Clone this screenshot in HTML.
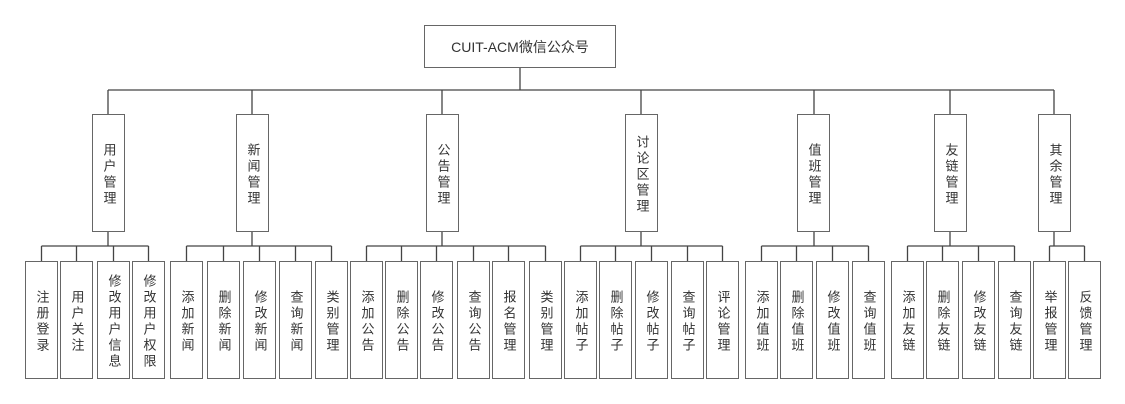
<!DOCTYPE html>
<html><head><meta charset="utf-8"><style>
body{margin:0;width:1125px;height:404px;background:#fff;position:relative;overflow:hidden;font-family:"Liberation Sans","Noto Sans CJK SC",sans-serif;color:#333}
svg{position:absolute;left:0;top:0}
.b{position:absolute;border:1.5px solid #666;box-sizing:border-box;background:#fff;display:flex;align-items:center;justify-content:center}
.b span{writing-mode:vertical-rl;font-size:13px;letter-spacing:3px;line-height:14px;margin-top:3px}
.m{top:114px;width:33px;height:118px}
.l{top:261px;width:33px;height:118px}
.r{left:424px;top:25px;width:192px;height:43px;font-size:14px;color:#333}
</style></head><body>
<svg width="1125" height="404" stroke="#444" stroke-width="1.3" fill="none">
<path d="M520 68V90M108 90H1054M108 90V114M252 90V114M442 90V114M641 90V114M814 90V114M950 90V114M1054 90V114"/>
<path d="M108 232V246M41.5 246H148.5M41.5 246V261M76.5 246V261M113.5 246V261M148.5 246V261"/>
<path d="M252 232V246M186.5 246H331.5M186.5 246V261M223.5 246V261M259.5 246V261M295.5 246V261M331.5 246V261"/>
<path d="M442 232V246M366.5 246H545.5M366.5 246V261M401.5 246V261M436.5 246V261M473.5 246V261M508.5 246V261M545.5 246V261"/>
<path d="M641 232V246M580.5 246H722.5M580.5 246V261M615.5 246V261M651.5 246V261M687.5 246V261M722.5 246V261"/>
<path d="M814 232V246M761.5 246H868.5M761.5 246V261M796.5 246V261M832.5 246V261M868.5 246V261"/>
<path d="M950 232V246M907.5 246H1014.5M907.5 246V261M942.5 246V261M978.5 246V261M1014.5 246V261"/>
<path d="M1054 232V246M1049.5 246H1084.5M1049.5 246V261M1084.5 246V261"/>
</svg>
<div class="b r">CUIT-ACM微信公众号</div>
<div class="b m" style="left:92px"><span>用户管理</span></div>
<div class="b m" style="left:236px"><span>新闻管理</span></div>
<div class="b m" style="left:426px"><span>公告管理</span></div>
<div class="b m" style="left:625px"><span>讨论区管理</span></div>
<div class="b m" style="left:797px"><span>值班管理</span></div>
<div class="b m" style="left:934px"><span>友链管理</span></div>
<div class="b m" style="left:1038px"><span>其余管理</span></div>

<div class="b l" style="left:25px"><span>注册登录</span></div>
<div class="b l" style="left:60px"><span>用户关注</span></div>
<div class="b l" style="left:97px"><span>修改用户信息</span></div>
<div class="b l" style="left:132px"><span>修改用户权限</span></div>

<div class="b l" style="left:170px"><span>添加新闻</span></div>
<div class="b l" style="left:207px"><span>删除新闻</span></div>
<div class="b l" style="left:243px"><span>修改新闻</span></div>
<div class="b l" style="left:279px"><span>查询新闻</span></div>
<div class="b l" style="left:315px"><span>类别管理</span></div>

<div class="b l" style="left:350px"><span>添加公告</span></div>
<div class="b l" style="left:385px"><span>删除公告</span></div>
<div class="b l" style="left:420px"><span>修改公告</span></div>
<div class="b l" style="left:457px"><span>查询公告</span></div>
<div class="b l" style="left:492px"><span>报名管理</span></div>
<div class="b l" style="left:529px"><span>类别管理</span></div>

<div class="b l" style="left:564px"><span>添加帖子</span></div>
<div class="b l" style="left:599px"><span>删除帖子</span></div>
<div class="b l" style="left:635px"><span>修改帖子</span></div>
<div class="b l" style="left:671px"><span>查询帖子</span></div>
<div class="b l" style="left:706px"><span>评论管理</span></div>

<div class="b l" style="left:745px"><span>添加值班</span></div>
<div class="b l" style="left:780px"><span>删除值班</span></div>
<div class="b l" style="left:816px"><span>修改值班</span></div>
<div class="b l" style="left:852px"><span>查询值班</span></div>

<div class="b l" style="left:891px"><span>添加友链</span></div>
<div class="b l" style="left:926px"><span>删除友链</span></div>
<div class="b l" style="left:962px"><span>修改友链</span></div>
<div class="b l" style="left:998px"><span>查询友链</span></div>

<div class="b l" style="left:1033px"><span>举报管理</span></div>
<div class="b l" style="left:1068px"><span>反馈管理</span></div>
</body></html>
